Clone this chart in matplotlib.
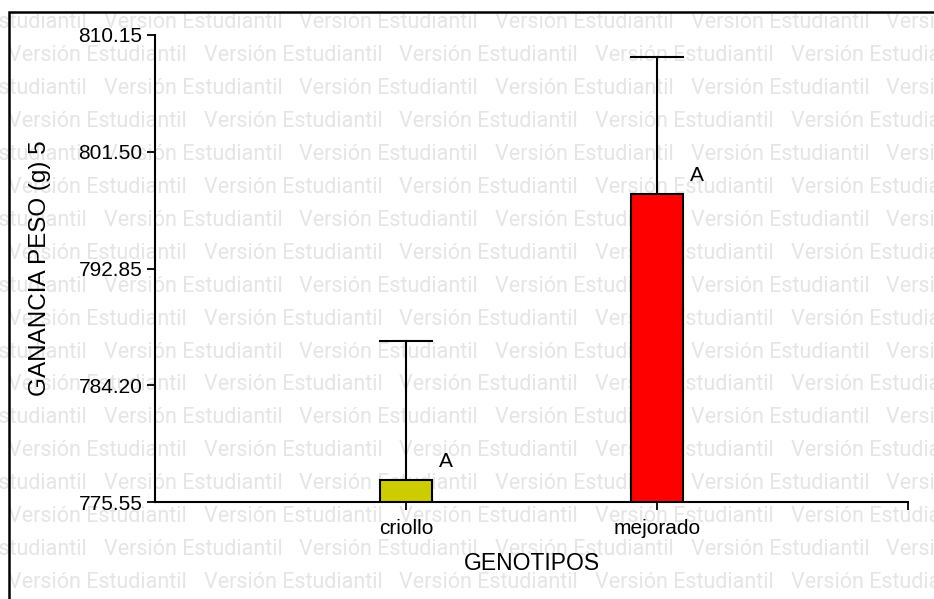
import matplotlib
matplotlib.use("Agg")
import matplotlib.pyplot as plt
from matplotlib.patches import Rectangle

categories = ["criollo", "mejorado"]
means = [777.2, 798.4]
errors = [10.3, 10.1]
letters = ["A", "A"]
colors = ["#CCCC00", "#FF0000"]
yticks = [775.55, 784.20, 792.85, 801.50, 810.15]
xlabel = "GENOTIPOS"
ylabel = "GANANCIA PESO (g) 5"
watermark = "Versión Estudiantil"

W, H = 934, 599
fig = plt.figure(figsize=(W / 100, H / 100), dpi=100)
fig.patch.set_facecolor("white")

# watermark background
for k in range(18):
    yc = 23 + 32.9 * k
    start = -92 if k % 2 == 0 else 8
    for j in range(-1, 6):
        x0 = start + 195.7 * j
        fig.text(x0 / W, 1 - yc / H, watermark, fontsize=15.5, family="Roboto",
                 color="#e5e5e5", ha="left", va="center", zorder=0)

# border box
fig.add_artist(Rectangle((9 / W, -0.01), 1.0, 1 - 12 / H + 0.01, transform=fig.transFigure,
                         fill=False, edgecolor="black", linewidth=1.8, zorder=1))

ax = fig.add_axes([155 / W, 1 - 502 / H, (908 - 155) / W, (502 - 35) / H])
ax.patch.set_alpha(0)
ax.set_zorder(2)

x = [1, 2]
bw = 0.21
ax.bar(x, [m - yticks[0] for m in means], bottom=yticks[0], width=bw, color=colors,
       edgecolor="black", linewidth=1.5, zorder=3)
for xi, m, e in zip(x, means, errors):
    ax.plot([xi, xi], [m, m + e], color="black", lw=1.5, zorder=2)
    ax.plot([xi - bw / 2, xi + bw / 2], [m + e, m + e], color="black", lw=1.5, zorder=2)
for xi, m, t in zip(x, means, letters):
    ax.annotate(t, xy=(xi + bw / 2, m), xytext=(5, 6), textcoords="offset points",
                ha="left", va="bottom", fontsize=15, family="Liberation Sans")

ax.set_xlim(0, 3)
ax.set_ylim(yticks[0], yticks[-1])
ax.set_yticks(yticks)
ax.set_yticklabels([f"{v:.2f}" for v in yticks])
ax.set_xticks([1, 2, 3])
ax.set_xticklabels(categories + [""])
for s in ["top", "right"]:
    ax.spines[s].set_visible(False)
for s in ["left", "bottom"]:
    ax.spines[s].set_linewidth(1.5)
ax.tick_params(direction="out", length=6, width=1.3, labelsize=15, pad=3)
ax.tick_params(axis="x", pad=6)
for lab in ax.get_xticklabels() + ax.get_yticklabels():
    lab.set_family("Liberation Sans")
ax.set_xlabel(xlabel, fontsize=16.5, family="Liberation Sans", labelpad=10)
ax.set_ylabel(ylabel, fontsize=17.5, family="Liberation Sans", labelpad=20)

fig.savefig("out.png", dpi=100)
